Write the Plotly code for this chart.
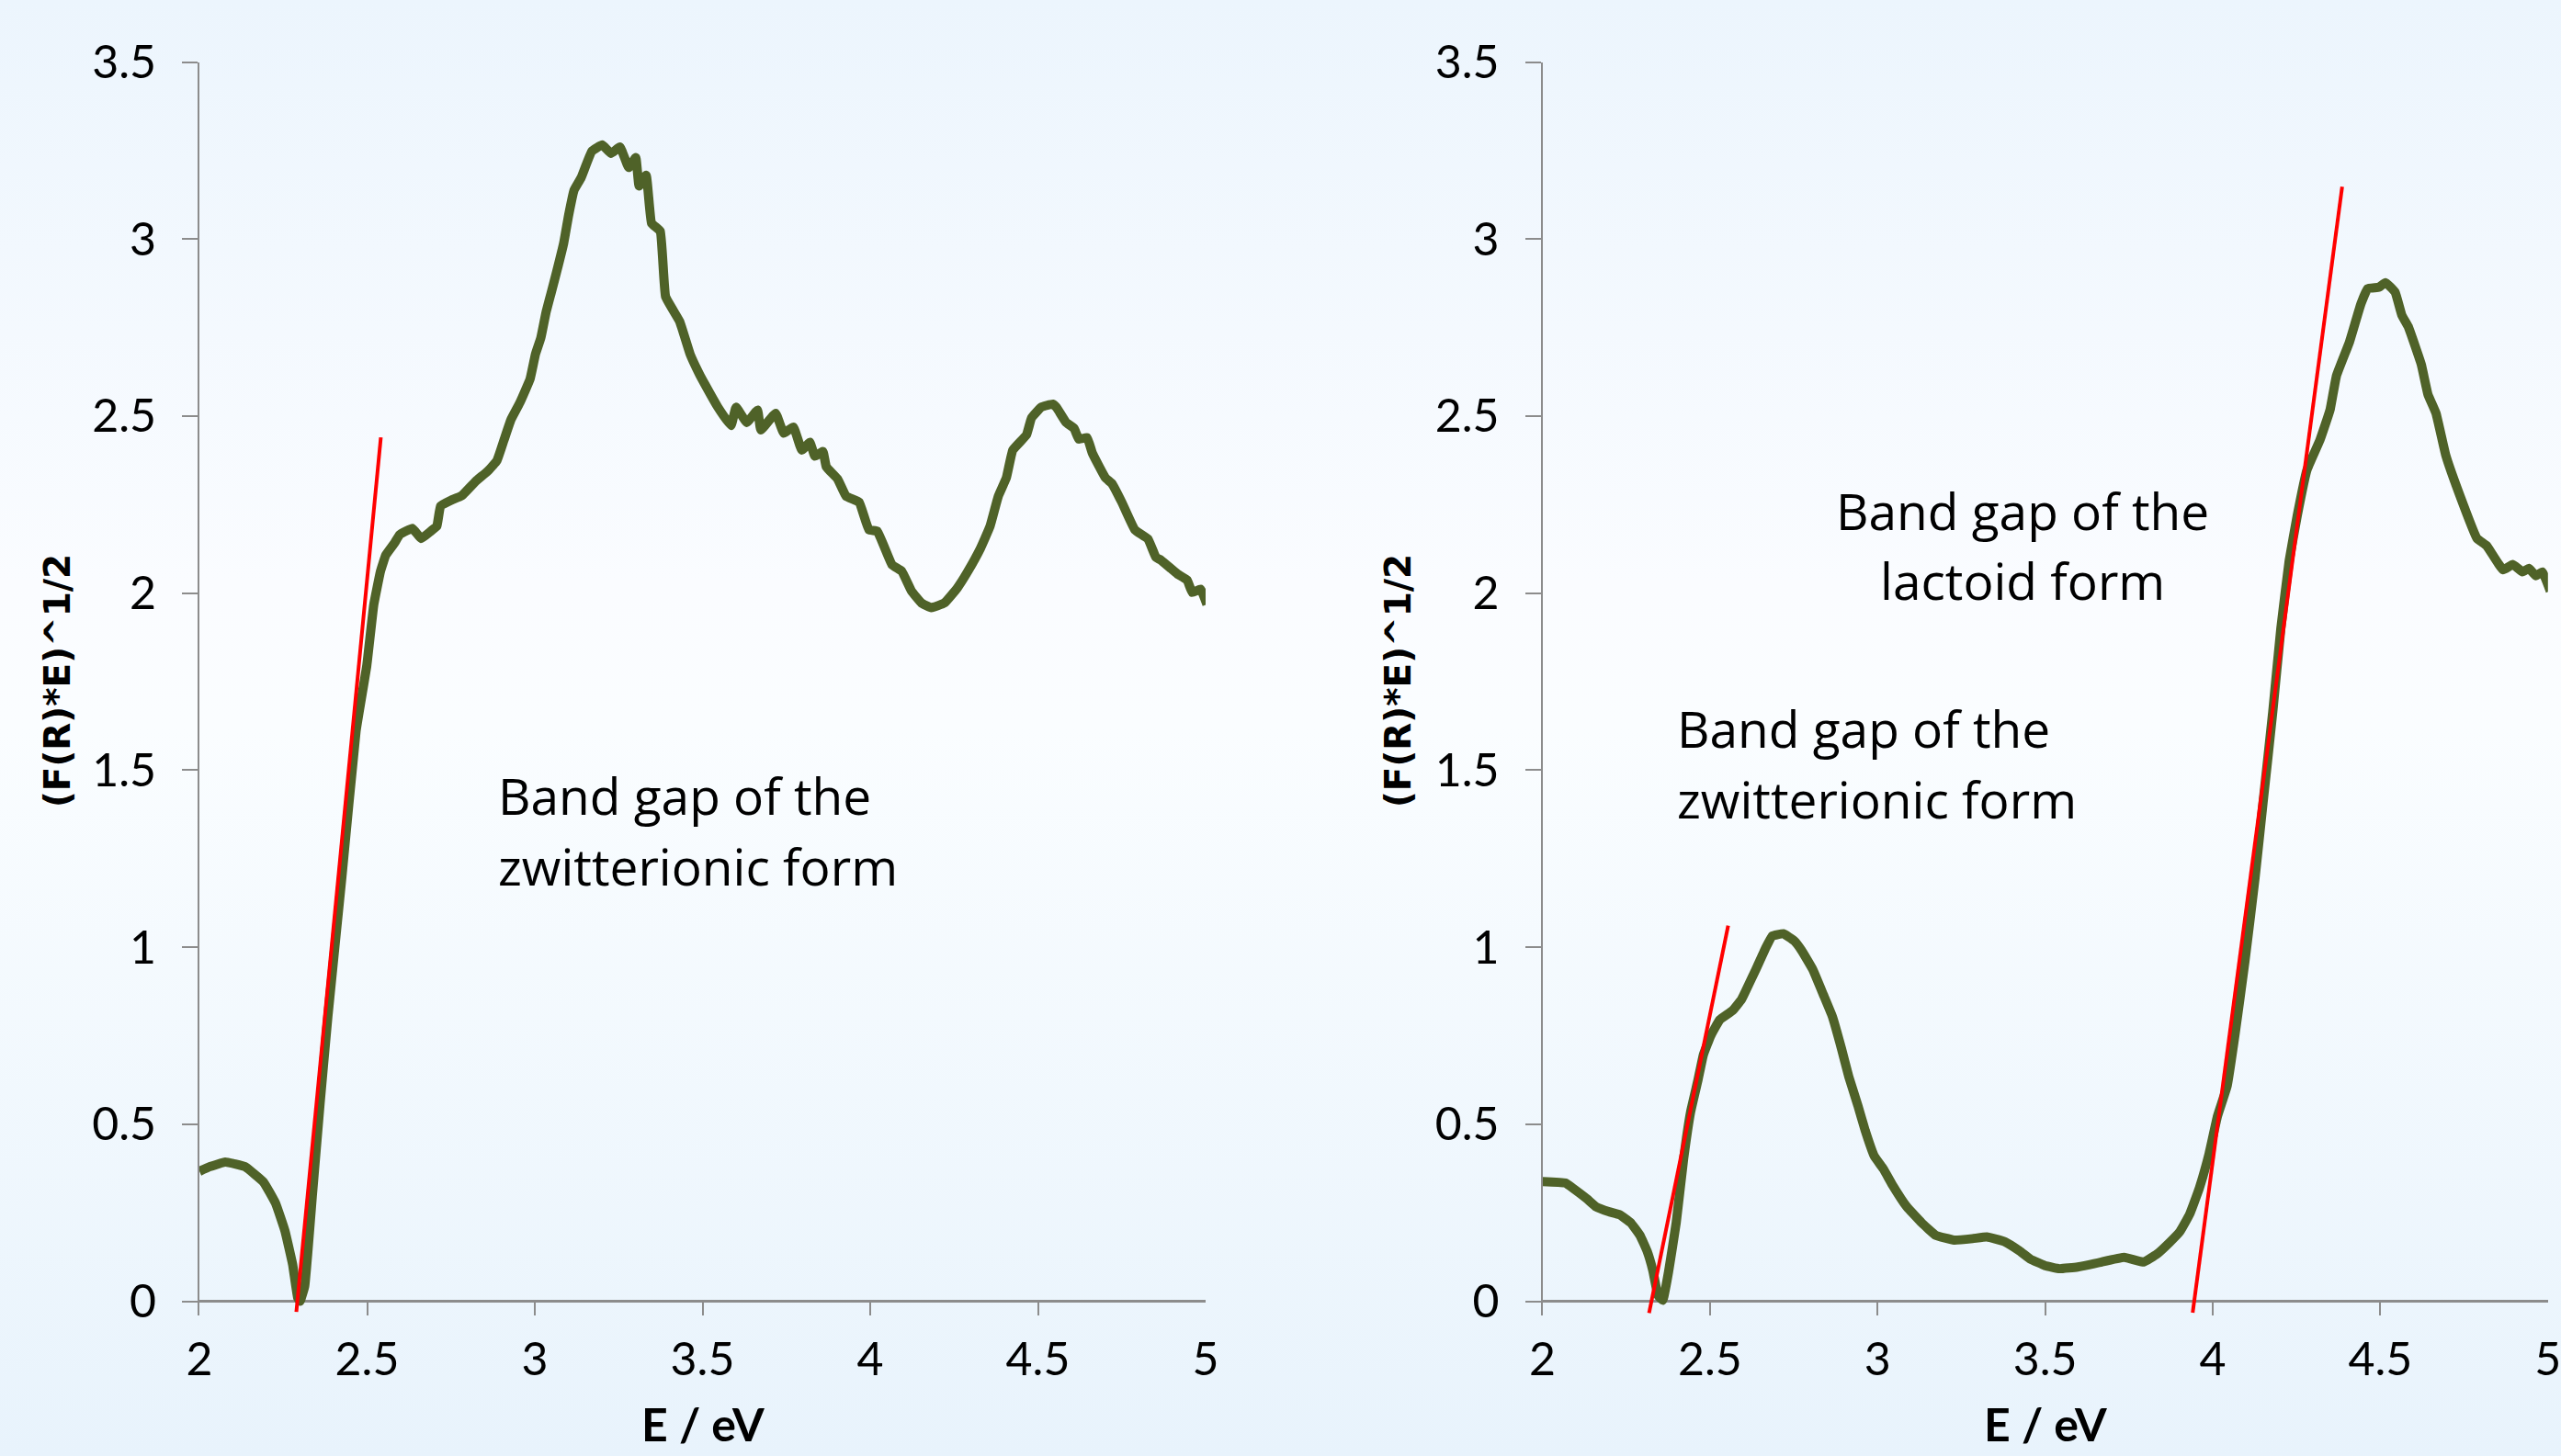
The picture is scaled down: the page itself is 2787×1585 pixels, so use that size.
import base64
import plotly.graph_objects as go

# ---------------- data ----------------
left_x = [2.000, 2.030, 2.077, 2.136, 2.191, 2.227, 2.255, 2.278, 2.293, 2.300, 2.314, 2.337, 2.360,
          2.383, 2.425, 2.467, 2.499, 2.520, 2.540, 2.556, 2.582, 2.597, 2.635, 2.661, 2.690, 2.708,
          2.719, 2.750, 2.782, 2.824, 2.860, 2.887, 2.908, 2.929, 2.955, 2.986, 3.002, 3.018, 3.033,
          3.049, 3.065, 3.086, 3.101, 3.117, 3.138, 3.170, 3.201, 3.227, 3.254, 3.280, 3.301, 3.311,
          3.332, 3.348, 3.374, 3.390, 3.432, 3.463, 3.490, 3.507, 3.546, 3.585, 3.600, 3.632, 3.664,
          3.674, 3.718, 3.742, 3.771, 3.796, 3.820, 3.835, 3.859, 3.869, 3.903, 3.928, 3.967, 3.996,
          4.021, 4.065, 4.094, 4.123, 4.153, 4.182, 4.221, 4.260, 4.289, 4.329, 4.357, 4.382, 4.406,
          4.425, 4.466, 4.481, 4.510, 4.544, 4.555, 4.584, 4.608, 4.622, 4.647, 4.662, 4.701, 4.721,
          4.750, 4.789, 4.828, 4.852, 4.867, 4.916, 4.945, 4.960, 4.985, 5.004]
left_y = [0.367, 0.380, 0.393, 0.380, 0.337, 0.277, 0.199, 0.104, 0.010, 0.000, 0.043, 0.302, 0.562,
          0.804, 1.200, 1.610, 1.795, 1.968, 2.062, 2.108, 2.142, 2.165, 2.183, 2.154, 2.175, 2.189,
          2.246, 2.262, 2.275, 2.316, 2.345, 2.374, 2.432, 2.490, 2.537, 2.605, 2.675, 2.721, 2.791,
          2.849, 2.907, 2.988, 3.068, 3.138, 3.173, 3.248, 3.266, 3.242, 3.260, 3.202, 3.230, 3.150,
          3.180, 3.045, 3.022, 2.837, 2.767, 2.675, 2.620, 2.590, 2.525, 2.473, 2.525, 2.482, 2.517,
          2.461, 2.508, 2.452, 2.469, 2.404, 2.426, 2.387, 2.400, 2.357, 2.322, 2.274, 2.257, 2.179,
          2.175, 2.080, 2.062, 2.006, 1.972, 1.959, 1.972, 2.015, 2.058, 2.127, 2.188, 2.274, 2.326,
          2.404, 2.447, 2.495, 2.525, 2.534, 2.525, 2.482, 2.465, 2.435, 2.439, 2.396, 2.326, 2.309,
          2.257, 2.179, 2.153, 2.101, 2.093, 2.054, 2.037, 2.002, 2.011, 1.968]

right_x = [2.000, 2.068, 2.090, 2.133, 2.160, 2.198, 2.231, 2.263, 2.291, 2.312, 2.329, 2.345, 2.359,
           2.377, 2.399, 2.421, 2.442, 2.464, 2.480, 2.502, 2.529, 2.567, 2.594, 2.610, 2.637, 2.665,
           2.686, 2.719, 2.751, 2.773, 2.806, 2.838, 2.865, 2.892, 2.914, 2.941, 2.963, 2.990, 3.017,
           3.044, 3.087, 3.131, 3.174, 3.228, 3.283, 3.326, 3.380, 3.424, 3.456, 3.499, 3.543, 3.597,
           3.646, 3.668, 3.736, 3.794, 3.833, 3.872, 3.902, 3.931, 3.960, 3.989, 4.014, 4.043, 4.067,
           4.096, 4.126, 4.150, 4.179, 4.203, 4.228, 4.252, 4.281, 4.320, 4.350, 4.369, 4.408, 4.442,
           4.462, 4.496, 4.515, 4.544, 4.564, 4.583, 4.622, 4.642, 4.666, 4.695, 4.734, 4.788, 4.817,
           4.866, 4.895, 4.924, 4.943, 4.964, 4.983, 5.007]
right_y = [0.338, 0.334, 0.320, 0.289, 0.267, 0.253, 0.244, 0.222, 0.186, 0.142, 0.088, 0.016, 0.003,
           0.088, 0.222, 0.401, 0.535, 0.625, 0.696, 0.750, 0.795, 0.821, 0.853, 0.884, 0.938, 0.996,
           1.032, 1.038, 1.018, 0.991, 0.938, 0.866, 0.804, 0.714, 0.634, 0.553, 0.482, 0.410, 0.374,
           0.329, 0.267, 0.222, 0.186, 0.173, 0.177, 0.182, 0.168, 0.142, 0.119, 0.101, 0.092, 0.097,
           0.106, 0.111, 0.124, 0.111, 0.133, 0.167, 0.197, 0.246, 0.320, 0.417, 0.523, 0.609, 0.758,
           0.961, 1.195, 1.409, 1.665, 1.900, 2.092, 2.219, 2.348, 2.433, 2.518, 2.614, 2.710, 2.817,
           2.860, 2.864, 2.877, 2.850, 2.785, 2.753, 2.646, 2.561, 2.508, 2.390, 2.284, 2.155, 2.134,
           2.066, 2.081, 2.060, 2.070, 2.049, 2.060, 2.006]

# tangent (band-gap) lines: [x0, x1], [y0, y1]
tan_left_x = [2.289, 2.541]
tan_left_y = [-0.030, 2.440]
tan_r1_x = [2.318, 2.554]
tan_r1_y = [-0.033, 1.061]
tan_r2_x = [3.940, 4.386]
tan_r2_y = [-0.032, 3.148]

x_ticks = [2, 2.5, 3, 3.5, 4, 4.5, 5]
x_tick_text = ["2", "2.5", "3", "3.5", "4", "4.5", "5"]
y_ticks = [0, 0.5, 1, 1.5, 2, 2.5, 3, 3.5]
y_tick_text = ["0", "0.5", "1", "1.5", "2", "2.5", "3", "3.5"]

y_title = "(F(R)*E)^1/2"
x_title = "E / eV"

# ---------------- style ----------------
W, H = 2787, 1585
GREEN = "#4F6228"
RED = "#FF0000"
GRAY = "#8C8C8C"
TICKFONT = dict(family="Lato", size=50, color="black")
TXTFONT = dict(family="Open Sans", size=55, color="black")

fig = go.Figure()
fig.add_trace(go.Scatter(x=left_x, y=left_y, mode="lines", line=dict(color=GREEN, width=10, shape="spline", smoothing=0.3),
                         xaxis="x", yaxis="y", showlegend=False))
fig.add_trace(go.Scatter(x=tan_left_x, y=tan_left_y, mode="lines", line=dict(color=RED, width=4),
                         xaxis="x", yaxis="y", showlegend=False))
fig.add_trace(go.Scatter(x=right_x, y=right_y, mode="lines", line=dict(color=GREEN, width=10, shape="spline", smoothing=0.3),
                         xaxis="x2", yaxis="y2", showlegend=False))
fig.add_trace(go.Scatter(x=tan_r1_x, y=tan_r1_y, mode="lines", line=dict(color=RED, width=4),
                         xaxis="x2", yaxis="y2", showlegend=False))
fig.add_trace(go.Scatter(x=tan_r2_x, y=tan_r2_y, mode="lines", line=dict(color=RED, width=4),
                         xaxis="x2", yaxis="y2", showlegend=False))

# plot areas in pixels
L1, R1 = 217, 1312
L2, R2 = 1678.6, 2772.8
TOP_PX, BOT_PX = 67.5, 1432.0

xcommon = dict(range=[2, 5], tickvals=x_ticks, ticktext=x_tick_text, ticks="inside", ticklen=16,
               tickwidth=2, tickcolor=GRAY, showline=False, showgrid=False, zeroline=False,
               tickfont=TICKFONT, ticklabelstandoff=14, ticklabeloverflow="allow",
               automargin=False, fixedrange=True)
ycommon = dict(range=[-0.04, 3.5], tickvals=y_ticks, ticktext=y_tick_text, ticks="outside", ticklen=17,
               tickwidth=2, tickcolor=GRAY, showline=True, linecolor=GRAY, linewidth=2, showgrid=False,
               zeroline=True, zerolinecolor=GRAY, zerolinewidth=3, tickfont=TICKFONT,
               ticklabelstandoff=18, automargin=False, fixedrange=True,
               domain=[(H - BOT_PX) / H, (H - TOP_PX) / H])

fig.update_layout(
    width=W, height=H,
    margin=dict(l=0, r=0, t=0, b=0),
    paper_bgcolor="#F4F9FE",
    plot_bgcolor="rgba(0,0,0,0)",
    xaxis=dict(domain=[L1 / W, R1 / W], anchor="y", **xcommon),
    yaxis=dict(anchor="x", **ycommon),
    xaxis2=dict(domain=[L2 / W, R2 / W], anchor="y2", **xcommon),
    yaxis2=dict(anchor="x2", **ycommon),
)

# background gradient
svg = ('<svg xmlns="http://www.w3.org/2000/svg" width="100" height="100" preserveAspectRatio="none">'
       '<defs><linearGradient id="g" x1="0" y1="0" x2="0" y2="1">'
       '<stop offset="0" stop-color="#ECF5FD"/>'
       '<stop offset="0.40" stop-color="#FAFCFF"/>'
       '<stop offset="0.50" stop-color="#FAFDFF"/>'
       '<stop offset="1" stop-color="#E8F3FC"/>'
       '</linearGradient></defs><rect width="100" height="100" fill="url(#g)"/></svg>')
src = "data:image/svg+xml;base64," + base64.b64encode(svg.encode()).decode()
fig.add_layout_image(dict(source=src, xref="paper", yref="paper", x=0, y=1, sizex=1, sizey=1,
                          sizing="stretch", xanchor="left", yanchor="top", layer="below"))

# annotation texts
ann = [
    ("x", "y", 2.885, 1.430, "Band gap of the", "left"),
    ("x", "y", 2.885, 1.230, "zwitterionic form", "left"),
    ("x2", "y2", 3.432, 2.235, "Band gap of the", "center"),
    ("x2", "y2", 3.432, 2.037, "lactoid form", "center"),
    ("x2", "y2", 2.395, 1.618, "Band gap of the", "left"),
    ("x2", "y2", 2.395, 1.420, "zwitterionic form", "left"),
]
for xr, yr, xv, yv, t, anc in ann:
    fig.add_annotation(x=xv, y=yv, xref=xr, yref=yr, text=t, showarrow=False, xanchor=anc,
                       yanchor="middle", align=anc, font=TXTFONT)

# axis titles
for xc in (62, 1521):
    fig.add_annotation(x=xc / W, y=(H - 741) / H, xref="paper", yref="paper", text="<b>%s</b>" % y_title,
                       textangle=-90, showarrow=False, xanchor="center", yanchor="middle",
                       font=dict(family="DejaVu Sans", size=39, color="black"))
for xc in ((L1 + R1) / 2, (L2 + R2) / 2):
    fig.add_annotation(x=xc / W, y=(H - 1550) / H, xref="paper", yref="paper", text="<b>%s</b>" % x_title,
                       showarrow=False, xanchor="center", yanchor="middle",
                       font=dict(family="Lato", size=50, color="black"))

fig.write_html("out.html", config={"displayModeBar": False},
               post_script="document.body.style.margin='0';document.body.style.overflow='hidden';")
